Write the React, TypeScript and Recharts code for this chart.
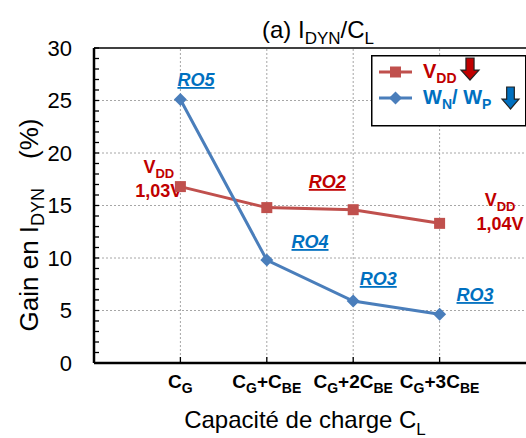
import React from "react";
import {
  LineChart,
  Line,
  XAxis,
  YAxis,
  ReferenceLine,
  ReferenceDot,
  Legend,
  Customized,
} from "recharts";

// ---------- data ----------
const categories = [1, 2, 3, 4];
const categoryLabels = ["C_{G}", "C_{G}+C_{BE}", "C_{G}+2C_{BE}", "C_{G}+3C_{BE}"];
const vddGain = [16.8, 14.8, 14.6, 13.3];
const wnwpGain = [25.1, 9.8, 5.9, 4.65];
const yMajorTicks = [0, 5, 10, 15, 20, 25, 30];
const yMinorTicks = Array.from({ length: 31 }, (_, i) => i);
const gridY = [5, 10, 15, 20, 25];

const titleText = "(a) I_{DYN}/C_{L}";
const xTitle = "Capacité de charge C_{L}";
const yTitle = "Gain en I_{DYN}    (%)";

// annotations anchored in data coordinates (x = category axis, y = gain %)
const annotations = [
  { x: 1.18, y: 26.38, lines: ["RO5"], series: "w" },
  { x: 2.5, y: 10.95, lines: ["RO4"], series: "w" },
  { x: 3.29, y: 7.43, lines: ["RO3"], series: "w" },
  { x: 4.41, y: 5.9, lines: ["RO3"], series: "w" },
  { x: 2.7, y: 16.67, lines: ["RO2"], series: "v" },
  { x: 0.75, y: 18.1, lines: ["V_{DD}", "1,03V"], series: "vt" },
  { x: 4.7, y: 14.98, lines: ["V_{DD}", "1,04V"], series: "vt" },
];

const data = categories.map((c, i) => ({ x: c, vdd: vddGain[i], wnwp: wnwpGain[i] }));

// ---------- styles ----------
const FONT = "'Liberation Sans', Arial, Helvetica, sans-serif";
const RED_LINE = "#c0504d";
const BLUE_LINE = "#4a7ebb";
const RED_TEXT = "#c00000";
const BLUE_TEXT = "#0070c0";

function rich(s: string, sub: number, shift: number) {
  const parts = s.split(/(_\{[^}]*\})/).filter((p) => p.length > 0);
  let down = false;
  return parts.map((p, i) => {
    if (p.startsWith("_{")) {
      const el = (
        <tspan key={i} fontSize={sub} dy={down ? 0 : shift}>
          {p.slice(2, -1)}
        </tspan>
      );
      down = true;
      return el;
    }
    const el = (
      <tspan key={i} dy={down ? -shift : 0}>
        {p}
      </tspan>
    );
    down = false;
    return el;
  });
}

const YTick = (props: any) => {
  const { x, y, payload } = props;
  const v = payload.value;
  const major = yMajorTicks.includes(v);
  return (
    <g>
      <line x1={x} x2={x + 5} y1={y} y2={y} stroke="#000" strokeWidth={1.3} />
      {major && (
        <text
          x={x - 22}
          y={y}
          dy="0.36em"
          textAnchor="end"
          fontSize={22}
          fill="#000"
          fontFamily={FONT}
        >
          {v}
        </text>
      )}
    </g>
  );
};

const XTick = (props: any) => {
  const { x, y, payload } = props;
  const idx = categories.indexOf(payload.value);
  return (
    <g>
      <line x1={x} x2={x} y1={y} y2={y - 6} stroke="#000" strokeWidth={1.3} />
      <text
        x={x}
        y={y + 25}
        textAnchor="middle"
        fontSize={19}
        fontWeight="bold"
        fill="#000"
        fontFamily={FONT}
      >
        {rich(categoryLabels[idx] ?? "", 14, 5)}
      </text>
    </g>
  );
};

const SquareDot = (props: any) => {
  const { cx, cy } = props;
  if (cx == null || cy == null) return null;
  return <rect x={cx - 5.5} y={cy - 5.5} width={11} height={11} fill={RED_LINE} />;
};

const DiamondDot = (props: any) => {
  const { cx, cy } = props;
  if (cx == null || cy == null) return null;
  const r = 6.5;
  return (
    <polygon
      points={`${cx},${cy - r} ${cx + r},${cy} ${cx},${cy + r} ${cx - r},${cy}`}
      fill={BLUE_LINE}
    />
  );
};

const Arrow = ({ x, y, w, h, fill }: any) => {
  // down-pointing block arrow, top-left at (x,y)
  const shaftW = w * 0.45;
  const headH = h * 0.45;
  const cx = x + w / 2;
  const pts = [
    [cx - shaftW / 2, y],
    [cx + shaftW / 2, y],
    [cx + shaftW / 2, y + h - headH],
    [x + w, y + h - headH],
    [cx, y + h],
    [x, y + h - headH],
    [cx - shaftW / 2, y + h - headH],
  ]
    .map((p) => p.join(","))
    .join(" ");
  return <polygon points={pts} fill={fill} stroke="#222" strokeWidth={1.2} />;
};

const LegendBox = () => (
  <svg width={156} height={72} style={{ display: "block", overflow: "visible" }}>
    <rect x={0.75} y={0.75} width={154} height={70} fill="#fff" stroke="#000" strokeWidth={1.5} />
    <line x1={8} x2={41} y1={17} y2={17} stroke={RED_LINE} strokeWidth={3} />
    <rect x={19} y={11.5} width={11} height={11} fill={RED_LINE} />
    <text x={52} y={23} fontSize={20} fontWeight="bold" fill={RED_TEXT} fontFamily={FONT}>
      {rich("V_{DD}", 14, 5)}
    </text>
    <Arrow x={90} y={3} w={18} h={22} fill={RED_TEXT} />
    <line x1={8} x2={41} y1={43} y2={43} stroke={BLUE_LINE} strokeWidth={3} />
    <polygon points="24.5,36.5 31,43 24.5,49.5 18,43" fill={BLUE_LINE} />
    <text x={52} y={49} fontSize={20} fontWeight="bold" fill={BLUE_TEXT} fontFamily={FONT}>
      {rich("W_{N}/ W_{P}", 14, 5)}
    </text>
    <Arrow x={131} y={32} w={17} h={22} fill={BLUE_TEXT} />
  </svg>
);

const Annotation = (ann: (typeof annotations)[number]) => (props: any) => {
  const { cx, cy } = props;
  if (cx == null || cy == null) return null;
  const isBlue = ann.series === "w";
  const isRO = ann.series !== "vt";
  return (
    <g>
      {ann.lines.map((ln, i) => (
        <text
          key={i}
          x={cx}
          y={cy + i * 24}
          textAnchor="middle"
          fontSize={18}
          fontWeight="bold"
          fontStyle={isRO ? "italic" : "normal"}
          textDecoration={isRO ? "underline" : "none"}
          fill={isBlue ? BLUE_TEXT : RED_TEXT}
          fontFamily={FONT}
        >
          {rich(ln, 13, 5)}
        </text>
      ))}
    </g>
  );
};

const Titles = () => (
  <g fontFamily={FONT} fill="#000">
    <text x={310} y={30} textAnchor="middle" fontSize={24}>
      {rich(titleText, 17, 6)}
    </text>
    <text x={297} y={420} textAnchor="middle" fontSize={24}>
      {rich(xTitle, 17, 7)}
    </text>
    <text
      x={0}
      y={0}
      transform="translate(30,217) rotate(-90)"
      textAnchor="middle"
      fontSize={26}
      style={{ whiteSpace: "pre" }}
    >
      {rich(yTitle, 18, 6)}
    </text>
  </g>
);

export default function App() {
  return (
    <div style={{ fontFamily: FONT, padding: "8px 0 0 8px", width: 518, height: 430 }}>
      <style>{"html,body{margin:0;padding:0;overflow:hidden}"}</style>
      <LineChart
        width={518}
        height={430}
        data={data}
        margin={{ top: 40, right: 0, bottom: 0, left: 0 }}
      >
        <XAxis
          dataKey="x"
          type="number"
          domain={[0, 5]}
          ticks={categories}
          interval={0}
          height={75}
          tickSize={0}
          tickMargin={0}
          tickLine={false}
          tick={XTick}
          axisLine={{ stroke: "#000", strokeWidth: 2.5 }}
        />
        <YAxis
          type="number"
          domain={[0, 30]}
          ticks={yMinorTicks}
          interval={0}
          width={86}
          tickSize={0}
          tickMargin={0}
          tickLine={false}
          tick={YTick}
          axisLine={{ stroke: "#000", strokeWidth: 2.5 }}
        />
        {gridY.map((v) => (
          <ReferenceLine key={"gy" + v} y={v} stroke="#a6a6a6" strokeDasharray="2 2" strokeWidth={1} />
        ))}
        {categories.map((v) => (
          <ReferenceLine key={"gx" + v} x={v} stroke="#a6a6a6" strokeDasharray="2 2" strokeWidth={1} />
        ))}
        <ReferenceLine y={30} stroke="#000" strokeWidth={1.5} />
        <Line
          dataKey="vdd"
          stroke={RED_LINE}
          strokeWidth={3}
          dot={SquareDot}
          activeDot={false}
          isAnimationActive={false}
        />
        <Line
          dataKey="wnwp"
          stroke={BLUE_LINE}
          strokeWidth={3}
          dot={DiamondDot}
          activeDot={false}
          isAnimationActive={false}
        />
        {annotations.map((a, i) => (
          <ReferenceDot
            key={"an" + i}
            x={a.x}
            y={a.y}
            r={0}
            ifOverflow="visible"
            shape={Annotation(a)}
          />
        ))}
        <Legend
          layout="vertical"
          align="center"
          verticalAlign="middle"
          content={() => <LegendBox />}
          wrapperStyle={{ position: "absolute", left: 363, top: 47, width: 156, height: 72 }}
        />
        <Customized component={Titles} />
      </LineChart>
    </div>
  );
}
